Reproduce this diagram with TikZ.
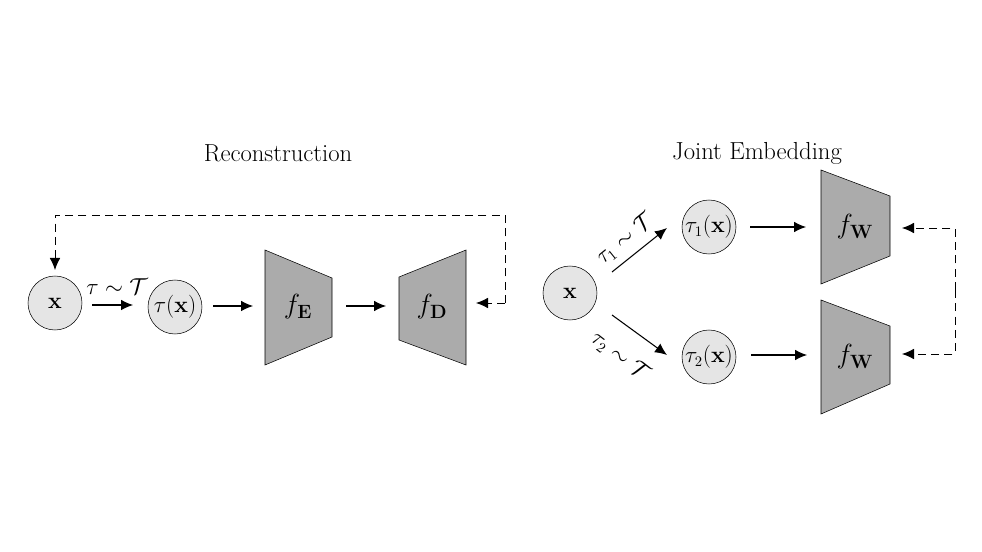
\documentclass[tikz,border=0pt]{standalone}
\usepackage{amsmath}
\usetikzlibrary{arrows.meta}
\begin{document}
\begin{tikzpicture}[x=0.75pt,y=-0.75pt,
  circ/.style={circle,draw,fill=black!10,minimum size=40.5pt,inner sep=0pt,font=\fontsize{16}{18}\selectfont},
  trap/.style={draw,fill=black!33},
  lab/.style={font=\fontsize{20}{22}\selectfont},
  arr/.style={-{Latex[length=9pt,width=8pt]},line width=0.8pt},
  darr/.style={-{Latex[length=9pt,width=8pt]},line width=0.7pt,dash pattern=on 6pt off 4pt},
  lbl/.style={font=\fontsize{16}{18}\selectfont},
  ttl/.style={font=\fontsize{18.5}{20}\selectfont}]
\useasboundingbox (0,0) rectangle (982,552);
\node[ttl] (t1) at (278,153) {Reconstruction};
\node[ttl] (t2) at (757,153) {Joint Embedding};
% left
\node[circ] (x) at (55,303) {$\mathbf{x}$};
\node[circ] (tx) at (175,307) {$\tau(\mathbf{x})$};
\draw[trap] (265,250) -- (332,278) -- (332,337) -- (265,365) -- cycle;
\node[lab] (fE) at (298,307) {$f_{\mathbf{E}}$};
\draw[trap] (399,277) -- (466,250) -- (466,365) -- (399,340) -- cycle;
\node[lab] (fD) at (432,307) {$f_{\mathbf{D}}$};
\coordinate (a1) at (92,305); \coordinate (a2) at (133,305);
\draw[arr] (a1) -- (a2);
\node[lbl] (la) at (117,287) {$\tau\sim\mathcal{T}$};
\coordinate (b1) at (213,306); \coordinate (b2) at (253,306);
\draw[arr] (b1) -- (b2);
\coordinate (c1) at (346,306); \coordinate (c2) at (386,306);
\draw[arr] (c1) -- (c2);
\coordinate (d0) at (505,303); \coordinate (d1) at (476,303);
\coordinate (d2) at (55,270);
\draw[darr] (d0) -- (505,215) -- (55,215) -- (d2);
\draw[darr] (505,303) -- (d1);
% right
\node[circ] (x2) at (570,293) {$\mathbf{x}$};
\node[circ] (t1x) at (709,227) {$\tau_1(\mathbf{x})$};
\node[circ] (t2x) at (709,357) {$\tau_2(\mathbf{x})$};
\draw[trap] (821,170) -- (890,196) -- (890,256) -- (821,284) -- cycle;
\node[lab] (fW1) at (855,227) {$f_{\mathbf{W}}$};
\draw[trap] (821,300) -- (890,326) -- (890,384) -- (821,414) -- cycle;
\node[lab] (fW2) at (855,357) {$f_{\mathbf{W}}$};
\coordinate (e1) at (612,272); \coordinate (e2) at (667,228);
\draw[arr] (e1) -- (e2);
\node[lbl,rotate=39] (le) at (625,239) {$\tau_1\sim\mathcal{T}$};
\coordinate (g1) at (612,315); \coordinate (g2) at (667,355);
\draw[arr] (g1) -- (g2);
\node[lbl,rotate=-38] (lg) at (620,356) {$\tau_2\sim\mathcal{T}$};
\coordinate (h1) at (750,227); \coordinate (h2) at (806,227);
\draw[arr] (h1) -- (h2);
\coordinate (k1) at (751,355); \coordinate (k2) at (807,355);
\draw[arr] (k1) -- (k2);
\coordinate (m1) at (902,228); \coordinate (m2) at (902,354);
\draw[darr] (955,290) -- (955,228) -- (m1);
\draw[darr] (955,290) -- (955,354) -- (m2);
\end{tikzpicture}
\end{document}
